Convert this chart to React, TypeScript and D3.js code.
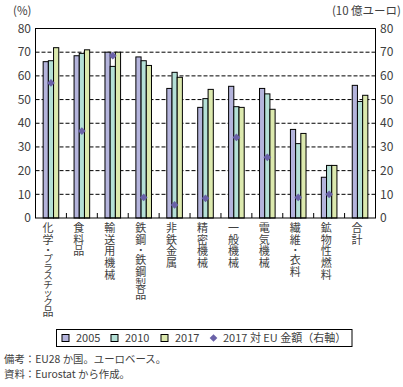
import React from "react";
import { scaleBand, scaleLinear, symbol, symbolSquare } from "d3";

const categories = [
  "化学・プラスチック品",
  "食料品",
  "輸送用機械",
  "鉄鋼・鉄鋼製品",
  "非鉄金属",
  "精密機械",
  "一般機械",
  "電気機械",
  "繊維・衣料",
  "鉱物性燃料",
  "合計",
];
const years = ["2005", "2010", "2017"];
const share2005 = [66, 68.5, 70, 68, 54.7, 46.7, 55.6, 54.7, 37.4, 17.2, 56];
const share2010 = [66.4, 69.5, 64, 66.4, 61.5, 50.4, 47, 52.4, 31.4, 22.2, 49.2];
const share2017 = [71.9, 71, 70, 64.4, 59.4, 54.3, 46.7, 45.9, 35.7, 22.2, 51.8];
const euAmount2017 = [57, 36.7, 68.5, 8.7, 5.5, 8.3, 34, 25.6, 8.7, 10, null];
const yTicks = [0, 10, 20, 30, 40, 50, 60, 70, 80];

const colors = ["#b4b4dc", "#b4e0d6", "#dce9ae"];
const diamondColor = "#6a62a8";
const textColor = "#404040";
const font = "'Noto Sans CJK JP', 'Noto Sans', sans-serif";

const left = 35.5;
const right = 375.5;
const top = 28.5;
const bottom = 218;

const isKana = (c: string) => /[\u30A0-\u30FF・]/.test(c);

export default function App() {
  const x = scaleBand<string>().domain(categories).range([left, right]);
  const inner = scaleBand<string>().domain(years).range([0, 15.6]);
  const y = scaleLinear().domain([0, 80]).range([bottom, top]);
  const y2 = scaleLinear().domain([0, 80]).range([bottom, top]);
  const series = [share2005, share2010, share2017];
  const diamond = symbol().type(symbolSquare).size(30)();

  return (
    <svg width={403} height={387} style={{ position: "absolute", left: 0, top: 0 }} fontFamily={font}>
      <rect width={403} height={387} fill="#fff" />
      {/* gridlines */}
      {yTicks.filter((t) => t > 0 && t < 80).map((t) => (
        <line key={t} x1={left} x2={right} y1={y(t)} y2={y(t)} stroke="#000" strokeDasharray="4,2" strokeWidth={1} />
      ))}
      {/* bars */}
      {categories.map((c, i) => {
        const gx = x(c)! + (x.bandwidth() - 15.6) / 2;
        return (
          <g key={c}>
            {years.map((yr, j) => (
              <rect
                key={yr}
                x={gx + inner(yr)!}
                y={y(series[j][i])}
                width={inner.bandwidth()}
                height={bottom - y(series[j][i])}
                fill={colors[j]}
                stroke="#000"
                strokeWidth={1}
              />
            ))}
          </g>
        );
      })}
      {/* diamonds on right axis */}
      {categories.map((c, i) =>
        euAmount2017[i] == null ? null : (
          <path
            key={c}
            d={diamond}
            transform={`translate(${x(c)! + x.bandwidth() / 2},${y2(euAmount2017[i] as number)}) rotate(45)`}
            fill={diamondColor}
          />
        )
      )}
      {/* frame */}
      <rect x={left} y={top} width={right - left} height={bottom - top} fill="none" stroke="#000" strokeWidth={1} />
      {/* category ticks */}
      {categories.slice(1).map((c) => (
        <line key={c} x1={x(c)!} x2={x(c)!} y1={bottom} y2={bottom - 5} stroke="#000" />
      ))}
      {/* y tick labels */}
      {yTicks.map((t) => (
        <g key={t}>
          <text x={31} y={y(t)} dy="0.35em" textAnchor="end" fontSize={12} fill={textColor}>{t}</text>
          <text x={380} y={y2(t)} dy="0.35em" textAnchor="start" fontSize={12} fill={textColor}>{t}</text>
        </g>
      ))}
      <text x={13} y={15} fontSize={11.5} fill={textColor}>(%)</text>
      <text x={401} y={15} textAnchor="end" fontSize={11.5} fill={textColor}>(10 億ユーロ)</text>
      {/* vertical category labels, one glyph per line */}
      {categories.map((c) => {
        let cy = 222;
        const cx = x(c)! + x.bandwidth() / 2 - 3;
        return (
          <g key={c}>
            {Array.from(c).map((ch, k) => {
              const kana = isKana(ch);
              const adv = kana ? 8.6 : 11.8;
              const el = (
                <text
                  key={k}
                  x={cx}
                  y={cy + adv / 2}
                  dy="0.36em"
                  textAnchor="middle"
                  fontSize={kana ? 9.6 : 11}
                  fill={textColor}
                >
                  {ch}
                </text>
              );
              cy += adv;
              return el;
            })}
          </g>
        );
      })}
      {/* legend */}
      <rect x={56.5} y={329.5} width={295.5} height={17} fill="#fff" stroke="#000" strokeWidth={1} />
      {years.map((yr, j) => {
        const lx = [62, 111, 161][j];
        return (
          <g key={yr}>
            <rect x={lx} y={334.5} width={7} height={7} fill={colors[j]} stroke="#000" strokeWidth={1} />
            <text x={lx + 14} y={338.5} dy="0.35em" fontSize={11} fill={textColor}>{yr}</text>
          </g>
        );
      })}
      <path d={diamond} transform="translate(213.5,338) rotate(45)" fill={diamondColor} />
      <text x={223} y={338.5} dy="0.35em" fontSize={11} fill={textColor}>2017 対 EU 金額（右軸）</text>
      {/* notes */}
      <text x={4} y={359} dy="0.35em" fontSize={10.4} fill={textColor}>備考：EU28 か国。ユーロベース。</text>
      <text x={4} y={374} dy="0.35em" fontSize={10.4} fill={textColor}>資料：Eurostat から作成。</text>
    </svg>
  );
}
